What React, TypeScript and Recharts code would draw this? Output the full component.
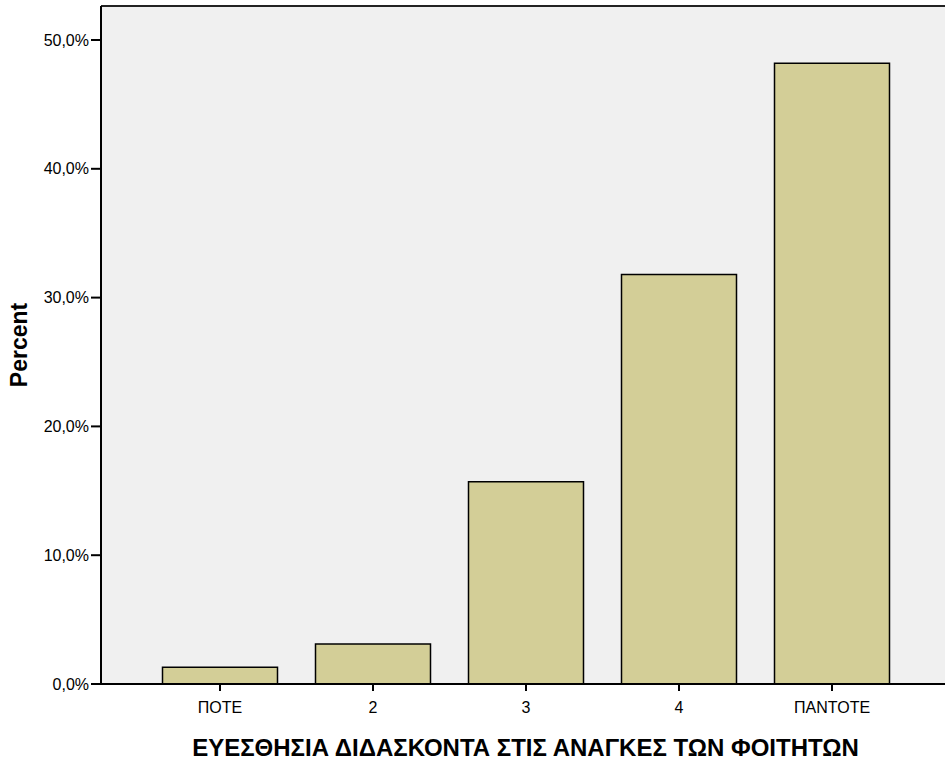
import React from 'react';
import { BarChart, Bar, XAxis, YAxis, CartesianGrid, ReferenceLine, Label } from 'recharts';

const categories = ['ΠΟΤΕ', '2', '3', '4', 'ΠΑΝΤΟΤΕ'];
const percents = [1.3, 3.1, 15.7, 31.8, 48.2];
const yTicks = [0, 10, 20, 30, 40, 50];
const yMax = 52.64;
const xTitle = 'ΕΥΕΣΘΗΣΙΑ ΔΙΔΑΣΚΟΝΤΑ ΣΤΙΣ ΑΝΑΓΚΕΣ ΤΩΝ ΦΟΙΤΗΤΩΝ';
const yTitle = 'Percent';

const data = categories.map((c, i) => ({ cat: c, pct: percents[i] }));

const FONT = "Arial, 'Liberation Sans', sans-serif";

const fmt = (v: number) => v.toFixed(1).replace('.', ',') + '%';

const YTitle = (props: any) => {
  const vb = props.viewBox || {};
  const x = vb.x + 19;
  const y = vb.y + vb.height / 2;
  return (
    <text
      x={x}
      y={y}
      transform={`rotate(-90 ${x} ${y})`}
      textAnchor="middle"
      dominantBaseline="central"
      fontFamily={FONT}
      fontWeight="bold"
      fontSize={23}
      fill="#000"
    >
      {yTitle}
    </text>
  );
};

const XTitle = (props: any) => {
  const vb = props.viewBox || {};
  const x = vb.x + vb.width / 2;
  const y = vb.y + vb.height - 4;
  return (
    <text
      x={x}
      y={y}
      textAnchor="middle"
      fontFamily={FONT}
      fontWeight="bold"
      fontSize={24}
      fill="#000"
    >
      {xTitle}
    </text>
  );
};

export default function App() {
  return (
    <div style={{ position: 'absolute', left: 0, top: 0, width: 945, height: 760, overflow: 'hidden', background: '#fff' }}>
      <BarChart width={960} height={760} data={data} margin={{ top: 6, right: 10, left: 0, bottom: 0 }}>
        <CartesianGrid horizontal={false} vertical={false} fill="#f0f0f0" />
        <XAxis
          dataKey="cat"
          height={76}
          interval={0}
          padding={{ left: 42.5, right: 41.5 }}
          tickSize={7}
          tickMargin={11}
          axisLine={{ stroke: '#000', strokeWidth: 2 }}
          tickLine={{ stroke: '#000', strokeWidth: 2 }}
          tick={{ fill: '#000', fontSize: 16, fontFamily: FONT }}
        >
          <Label content={XTitle} />
        </XAxis>
        <YAxis
          width={101}
          domain={[0, yMax]}
          ticks={yTicks}
          tickFormatter={fmt}
          tickSize={10}
          axisLine={{ stroke: '#000', strokeWidth: 2 }}
          tickLine={{ stroke: '#000', strokeWidth: 2 }}
          tick={{ fill: '#000', fontSize: 16, fontFamily: FONT }}
        >
          <Label content={YTitle} />
        </YAxis>
        <ReferenceLine y={yMax} stroke="#222" strokeWidth={2} />
        <Bar dataKey="pct" fill="#d3ce97" stroke="#000" strokeWidth={1.5} barSize={115} isAnimationActive={false} />
      </BarChart>
    </div>
  );
}
